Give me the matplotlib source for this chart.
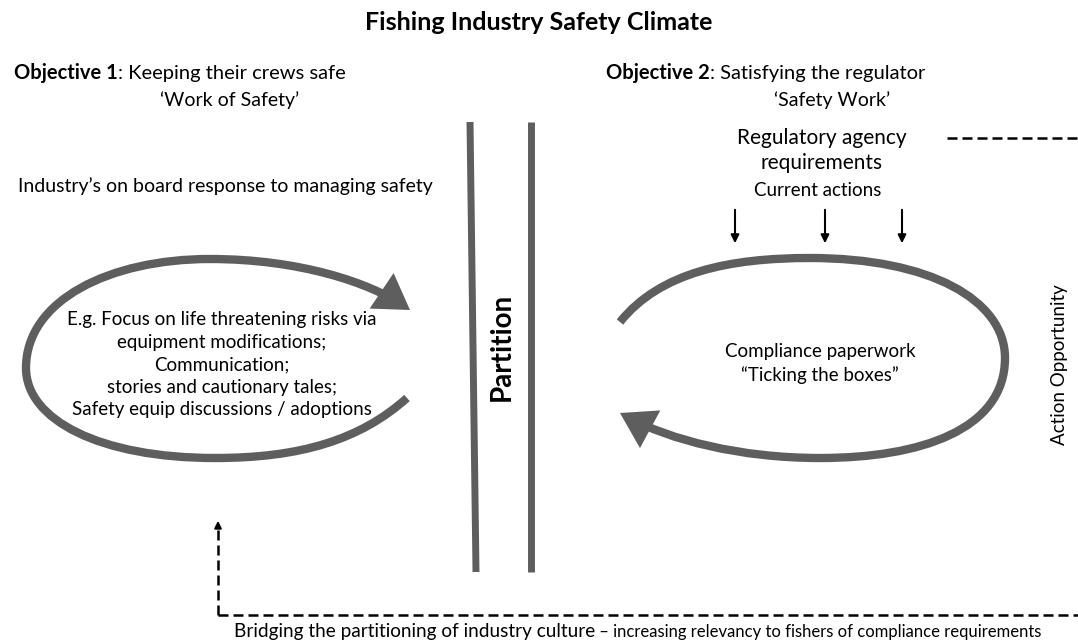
import matplotlib.pyplot as plt
from matplotlib.path import Path
from matplotlib.patches import FancyArrowPatch

plt.rcParams['font.family'] = ['Lato', 'DejaVu Sans']

title = 'Fishing Industry Safety Climate'
obj_heads = ['Objective 1', 'Objective 2']
obj_texts = [': Keeping their crews safe', ': Satisfying the regulator']
obj_subs = ['\u2018Work of Safety\u2019', '\u2018Safety Work\u2019']
left_lines = ['E.g. Focus on life threatening risks via', 'equipment modifications;',
              'Communication;', 'stories and cautionary tales;',
              'Safety equip discussions / adoptions']
right_lines = ['Compliance paperwork', '\u201cTicking the boxes\u201d']
bottom_big = 'Bridging the partitioning of industry culture'
bottom_small = ' \u2013 increasing relevancy to fishers of compliance requirements'

GREY = '#5e5e5e'
DASH = (0, (4, 2))

fig = plt.figure(figsize=(10.78, 6.43), dpi=100)
ax = fig.add_axes([0, 0, 1, 1])
ax.set_xlim(0, 1078)
ax.set_ylim(643, 0)
ax.axis('off')

ax.text(539, 22, title, ha='center', va='center', fontsize=18, fontweight='bold')

# objectives
for x0, xs, head, txt, sub in [(14, 230, obj_heads[0], obj_texts[0], obj_subs[0]),
                               (606, 832, obj_heads[1], obj_texts[1], obj_subs[1])]:
    t = ax.text(x0, 73, head, ha='left', va='center', fontsize=14.5, fontweight='bold')
    ax.annotate(txt, xy=(1, 0.5), xycoords=t, ha='left', va='center', fontsize=14.5)
    ax.text(xs, 100, sub, ha='center', va='center', fontsize=14)

ax.text(18, 186, 'Industry\u2019s on board response to managing safety',
        ha='left', va='center', fontsize=14)

# partition
ax.plot([470, 476], [122, 572], color=GREY, lw=5, solid_capstyle='butt')
ax.plot([531, 531], [122, 572], color=GREY, lw=5, solid_capstyle='butt')
ax.text(502, 347, 'Partition', rotation=90, ha='center', va='center',
        fontsize=20, fontweight='bold')

# regulator
ax.text(822, 138, 'Regulatory agency', ha='center', va='center', fontsize=15)
ax.text(822, 163, 'requirements', ha='center', va='center', fontsize=15)
ax.text(818, 190, 'Current actions', ha='center', va='center', fontsize=13.5)
ax.plot([947, 1078], [138, 138], color='black', lw=1.8, ls=DASH)
for x in [735, 825, 902]:
    ax.annotate('', xy=(x, 246), xytext=(x, 207),
                arrowprops=dict(arrowstyle='-|>', color='black', lw=1.5,
                                mutation_scale=12))

# loops
C = Path.CURVE4
left_pts = [(407, 398), (360, 440), (300, 458), (215, 458),
            (100, 458), (26, 420), (26, 368),
            (26, 300), (110, 259), (210, 259),
            (300, 259), (370, 283), (410, 310)]
right_pts = [(620, 322), (660, 272), (730, 258), (810, 258),
             (930, 258), (1005, 300), (1005, 358),
             (1005, 430), (920, 458), (820, 458),
             (740, 458), (670, 440), (620, 413)]
for pts in [left_pts, right_pts]:
    codes = [Path.MOVETO] + [C] * (len(pts) - 1)
    ax.add_patch(FancyArrowPatch(path=Path(pts, codes),
                                 arrowstyle='-|>,head_length=0.8,head_width=0.5',
                                 mutation_scale=20, color=GREY, lw=6,
                                 joinstyle='miter', capstyle='butt'))

for i, line in enumerate(left_lines):
    ax.text(222, 320 + i * 22.5, line, ha='center', va='center', fontsize=13.5)
for i, line in enumerate(right_lines):
    ax.text(820, 352 + i * 23, line, ha='center', va='center', fontsize=13.5)

ax.text(1060, 365, 'Action Opportunity', rotation=90, ha='center', va='center', fontsize=13.5)

# bridging
ax.plot([218, 1078], [615, 615], color='black', lw=1.8, ls=DASH)
ax.plot([218, 218], [615, 528], color='black', lw=1.8, ls=DASH)
ax.annotate('', xy=(218, 518), xytext=(218, 530),
            arrowprops=dict(arrowstyle='-|>', color='black', lw=1.5, mutation_scale=10))
t = ax.text(234, 632, bottom_big, ha='left', va='center', fontsize=13.7)
ax.annotate(bottom_small, xy=(1, 0), xycoords=t, ha='left', va='bottom', fontsize=12)

fig.savefig('out.png', dpi=100)
